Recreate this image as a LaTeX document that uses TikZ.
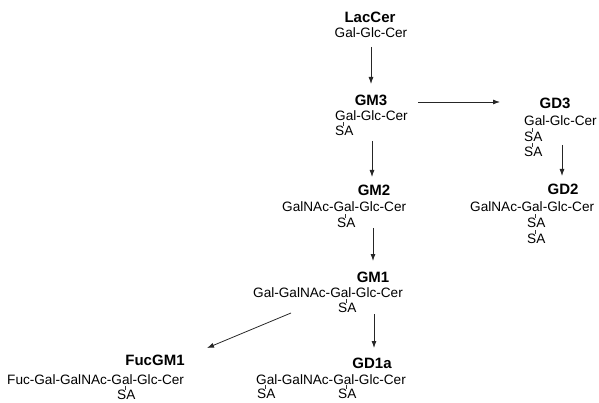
\documentclass[tikz,border=0pt]{standalone}
\usepackage{fontspec}
\setmainfont{Liberation Sans}
\usetikzlibrary{arrows.meta}
\begin{document}
\begin{tikzpicture}[x=1pt,y=-1pt,
  ttl/.style={font=\fontsize{15}{15}\selectfont\bfseries, inner sep=0pt, anchor=center},
  chain/.style={font=\fontsize{13.6}{14}\selectfont, inner sep=0pt, anchor=west},
  sa/.style={font=\fontsize{13.6}{14}\selectfont, inner sep=0pt, anchor=west},
  arr/.style={draw=black!85, line width=0.8pt, -{Latex[length=7pt,width=5pt]}},
  tick/.style={draw=black!80, line width=0.5pt}]
\useasboundingbox (0,0) rectangle (599,403);
% LacCer
\node[ttl] (lac) at (370,17) {LacCer};
\node[chain, anchor=center] (lacs) at (371,33) {Gal-Glc-Cer};
% GM3
\node[ttl] (gm3) at (371,100) {GM3};
\node[chain] (gm3s) at (335,116) {Gal-Glc-Cer};
\node[sa] (gm3a) at (335,131) {SA};
% GD3
\node[ttl] (gd3) at (555,103) {GD3};
\node[chain] (gd3s) at (524,121) {Gal-Glc-Cer};
\node[sa] (gd3a) at (524,137) {SA};
\node[sa] (gd3b) at (524,152) {SA};
% GD2
\node[ttl] (gd2) at (563,189) {GD2};
\node[chain] (gd2s) at (470,207) {GalNAc-Gal-Glc-Cer};
\node[sa] (gd2a) at (527,223) {SA};
\node[sa] (gd2b) at (527,239) {SA};
% GM2
\node[ttl] (gm2) at (374,190) {GM2};
\node[chain] (gm2s) at (282,207) {GalNAc-Gal-Glc-Cer};
\node[sa] (gm2a) at (337,223) {SA};
% GM1
\node[ttl] (gm1) at (373,277) {GM1};
\node[chain] (gm1s) at (253,293) {Gal-GalNAc-Gal-Glc-Cer};
\node[sa] (gm1a) at (338,308) {SA};
% GD1a
\node[ttl] (gd1a) at (372,363) {GD1a};
\node[chain] (gd1as) at (256,380) {Gal-GalNAc-Gal-Glc-Cer};
\node[sa] (gd1aa) at (257,394) {SA};
\node[sa] (gd1ab) at (338,394) {SA};
% FucGM1
\node[ttl] (fuc) at (155,360) {FucGM1};
\node[chain] (fucs) at (7,380) {Fuc-Gal-GalNAc-Gal-Glc-Cer};
\node[sa] (fuca) at (117,395) {SA};
% SA ticks
\foreach \n in {gm3a,gd3a,gd3b,gd2a,gd2b,gm2a,gm1a,gd1aa,gd1ab,fuca}
  \draw[tick] ([xshift=-1pt]\n.north) -- ++(0,-4);
% arrows
\coordinate (c1) at (371,47);
\coordinate (c2) at (371,84);
\draw[arr] (c1) -- (c2);
\coordinate (h1) at (418,102);
\coordinate (h2) at (500,102);
\draw[arr] (h1) -- (h2);
\coordinate (d1) at (562,145);
\coordinate (d2) at (562,176);
\draw[arr] (d1) -- (d2);
\coordinate (m1) at (372,141);
\coordinate (m2) at (372,177);
\draw[arr] (m1) -- (m2);
\coordinate (n1) at (373,228);
\coordinate (n2) at (373,261);
\draw[arr] (n1) -- (n2);
\coordinate (p1) at (374,314);
\coordinate (p2) at (374,348);
\draw[arr] (p1) -- (p2);
\coordinate (q1) at (291,313);
\coordinate (q2) at (207,348);
\draw[arr] (q1) -- (q2);
\end{tikzpicture}
\end{document}
